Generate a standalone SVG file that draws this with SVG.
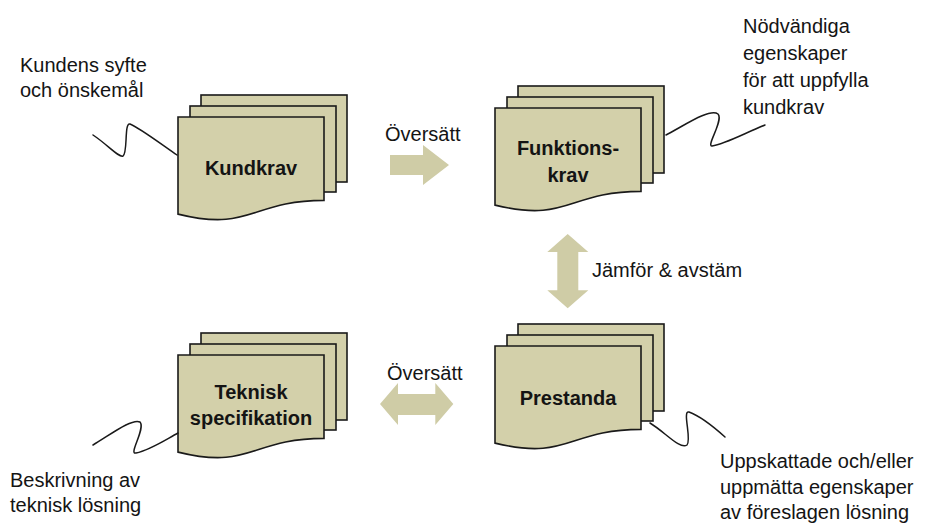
<svg xmlns="http://www.w3.org/2000/svg" width="935" height="524" viewBox="0 0 935 524">
  <style>
    .sheet { fill: #d3d0aa; stroke: #1a1a1a; stroke-width: 1.6; stroke-linejoin: miter; }
    .title { font-family: "Liberation Sans", Arial, sans-serif; font-weight: bold; font-size: 20px; fill: #141414; text-anchor: middle; }
    .note { font-family: "Liberation Sans", Arial, sans-serif; font-size: 20px; fill: #141414; }
    .squiggle { fill: none; stroke: #1a1a1a; stroke-width: 1.5; stroke-linecap: round; }
    .block-arrow { fill: #cfcca6; stroke: none; }
  </style>
  <defs>
    <!-- stacked document sheets; origin = top-left of the front sheet -->
    <g id="multidoc">
      <rect class="sheet" x="23" y="-22" width="146" height="87"/>
      <rect class="sheet" x="12" y="-11" width="146" height="86"/>
      <path class="sheet" d="M0,0 H146 V83.4 C73,83.4 73,115.2 0,97.1 Z"/>
    </g>
  </defs>

  <rect width="935" height="524" fill="#ffffff"/>

  <g id="node-kundkrav">
    <use href="#multidoc" x="178" y="117"/>
    <text class="title" x="251" y="175">Kundkrav</text>
  </g>

  <g id="node-funktionskrav">
    <use href="#multidoc" x="495" y="108"/>
    <text class="title" x="568" y="155">Funktions-</text>
    <text class="title" x="568" y="182">krav</text>
  </g>

  <g id="node-teknisk-specifikation">
    <use href="#multidoc" x="178" y="355"/>
    <text class="title" x="251" y="399">Teknisk</text>
    <text class="title" x="251" y="425">specifikation</text>
  </g>

  <g id="node-prestanda">
    <use href="#multidoc" x="495" y="346"/>
    <text class="title" x="568" y="405">Prestanda</text>
  </g>

  <g id="connectors">
    <!-- Översätt: Kundkrav -> Funktionskrav -->
    <path class="block-arrow" d="M390,155 H423 V145 L449,165 L423,185 V175 H390 Z"/>
    <!-- Jämför & avstäm: vertical two-way -->
    <path class="block-arrow" d="M567.7,234 L588.3,252 H578.3 V290.3 H588.3 L567.7,308.3 L547.3,290.3 H557.3 V252 H547.3 Z"/>
    <!-- Översätt: Prestanda <-> Teknisk specifikation -->
    <path class="block-arrow" d="M380,404 L398,383 V394 H435.3 V383 L453.3,404 L435.3,425 V415 H398 V425 Z"/>

    <!-- callout squiggles -->
    <path class="squiggle" d="M93,135 C108,145 119,158 123,156 C128,153 124,122 130,124 C140,128 165,147 177,155"/>
    <path class="squiggle" d="M666,135 C685,125 710,108 718,114 C724,120 706,146 712,146 C725,144 745,133 765,125"/>
    <path class="squiggle" d="M93,445 C110,435 132,418 140,422 C146,428 128,455 136,453 C150,450 165,440 178,433"/>
    <path class="squiggle" d="M650,423 C665,432 680,450 687,445 C692,440 682,410 689,412 C700,416 715,428 725,437"/>
  </g>

  <g id="labels">
    <text class="note" x="385" y="141">Översätt</text>
    <text class="note" x="387" y="380">Översätt</text>
    <text class="note" x="592" y="277">Jämför &amp; avstäm</text>

    <text class="note" x="20" y="72">Kundens syfte</text>
    <text class="note" x="20" y="97">och önskemål</text>

    <text class="note" x="743" y="33">Nödvändiga</text>
    <text class="note" x="743" y="60">egenskaper</text>
    <text class="note" x="743" y="87">för att uppfylla</text>
    <text class="note" x="743" y="114">kundkrav</text>

    <text class="note" x="10" y="487">Beskrivning av</text>
    <text class="note" x="10" y="512">teknisk lösning</text>

    <text class="note" x="720" y="468">Uppskattade och/eller</text>
    <text class="note" x="720" y="494">uppmätta egenskaper</text>
    <text class="note" x="720" y="519">av föreslagen lösning</text>
  </g>
</svg>
